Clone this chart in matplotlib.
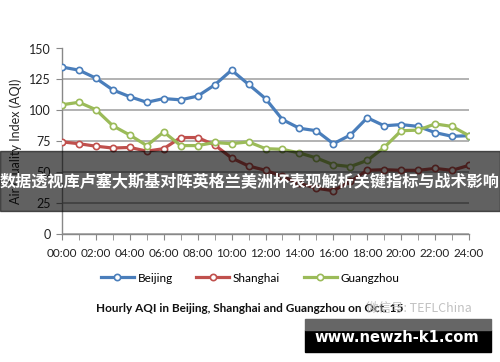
import matplotlib
matplotlib.use("Agg")
import matplotlib.pyplot as plt
from matplotlib.patches import Rectangle

hours = list(range(25))
xtick_labels = ["00:00", "02:00", "04:00", "06:00", "08:00", "10:00", "12:00",
                "14:00", "16:00", "18:00", "20:00", "22:00", "24:00"]
beijing = [135, 132.5, 126, 116.5, 111, 106.5, 109.5, 108.5, 111.5, 120.5, 132.5,
           121, 109.5, 92.5, 85.5, 83.5, 73, 80, 94, 87.5, 88.5, 87, 82, 79, 79.5]
shanghai = [74.5, 73, 71, 69.5, 70, 67, 69, 78, 78, 72, 61.5, 55, 51.5, 46.5, 41,
            37, 35, 42.5, 51.5, 52, 51.5, 51.5, 53, 51.5, 55.5]
guangzhou = [104.5, 106.5, 100.5, 87.5, 80, 71.5, 82.5, 71.5, 71.5, 74, 73, 74.5,
             69, 68.5, 65.5, 61.5, 56, 54.5, 59.5, 70, 83.5, 84, 89, 87, 79.5]
yticks = [0, 25, 50, 75, 100, 125, 150]
series_names = ["Beijing", "Shanghai", "Guangzhou"]
colors = ["#4A7EBB", "#C0504D", "#9BBB59"]
title = "Hourly AQI in Beijing, Shanghai and Guangzhou on Oct. 15"
ylabel = "Air Quality Index (AQI)"
banner = "数据透视库卢塞大斯基对阵英格兰美洲杯表现解析关键指标与战术影响"
wm_text = "微信号: TEFLChina"
site = "www.newzh-k1.com"

plt.rcParams['font.family'] = ['Lato', 'Noto Sans CJK SC', 'DejaVu Sans']

W, H = 500, 362
fig = plt.figure(figsize=(W / 100, H / 100), dpi=100)
ax = fig.add_axes([62 / W, (H - 234) / H, (469 - 62) / W, (234 - 48.5) / H])

for name, vals, c in zip(series_names, [beijing, shanghai, guangzhou], colors):
    ax.plot(hours, vals, color=c, lw=2.3, marker='o', ms=4.5,
            markerfacecolor='white', markeredgecolor=c, markeredgewidth=1.2,
            label=name, zorder=3, solid_joinstyle='round')

ax.set_xlim(0, 24)
ax.set_ylim(0, 150)
ax.set_yticks(yticks)
ax.set_yticklabels([str(v) for v in yticks], fontsize=9, color='#222222')
ax.set_xticks(hours, minor=True)
ax.set_xticks(list(range(0, 25, 2)))
ax.set_xticklabels(xtick_labels, fontsize=8.5, color='#222222')
ax.tick_params(axis='x', which='both', length=4, color='#888888', direction='out', pad=6)
ax.tick_params(axis='y', length=4, color='#888888', direction='out', pad=4)
ax.grid(axis='y', color='#A6A6A6', lw=1.2, zorder=0)
for s in ['top', 'right']:
    ax.spines[s].set_visible(False)
for s in ['left', 'bottom']:
    ax.spines[s].set_color('#888888')
    ax.spines[s].set_linewidth(1.0)
ax.set_ylabel(ylabel, fontsize=9, color='#222222', labelpad=6)
ax.yaxis.set_label_coords(-40 / (469 - 62), 0.5)

fig.legend(loc='center', bbox_to_anchor=(0.5, 1 - 278 / H), ncol=3, frameon=False,
           fontsize=8.5, handlelength=2.8, columnspacing=2.0, handletextpad=0.3)

fig.text(0.5, 1 - 309 / H, title, ha='center', va='center', fontsize=8.5,
         fontweight='bold', color='#111111')
fig.text(366 / W, 1 - 308 / H, wm_text, ha='left', va='center', fontsize=9,
         color='#BBBBBB', alpha=0.9,
         family=['Noto Sans CJK SC', 'DejaVu Sans'])

# dark translucent banner
fig.patches.append(Rectangle((0, 1 - 210.5 / H), 1, (210.5 - 151) / H,
                             transform=fig.transFigure, color='black', alpha=0.62,
                             zorder=10))
fig.text(0.5, 1 - 182 / H, banner, ha='center', va='center', fontsize=11.6,
         fontweight='bold', color='white', zorder=11,
         family=['Noto Sans CJK SC', 'DejaVu Sans'])

# site box
fig.patches.append(Rectangle((305 / W, 1 - 352 / H), (491 - 305) / W, (352 - 330) / H,
                             transform=fig.transFigure, color='black', zorder=10))
fig.patches.append(Rectangle((305 / W, 1 - 330 / H), (491 - 305) / W, (330 - 319) / H,
                             transform=fig.transFigure, color='#666666', zorder=10))
fig.text(397 / W, 1 - 337 / H, site, ha='center', va='center', fontsize=10.6,
         fontweight='bold', color='white', zorder=11, family=['DejaVu Sans'])

fig.savefig("out.png", dpi=100)
